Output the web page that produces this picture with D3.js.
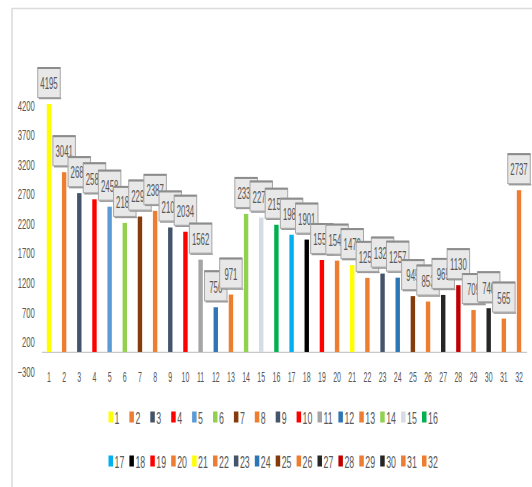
<!DOCTYPE html>
<html>
<head>
<meta charset="utf-8">
<script src="https://cdn.jsdelivr.net/npm/d3@7"></script>
<style>
  html, body { margin: 0; padding: 0; background: #fff; }
  svg { display: block; }
  text { font-family: "Liberation Sans", Arial, sans-serif; fill: #595959; }
</style>
</head>
<body>
<svg id="chart" width="532" height="487"></svg>
<script>
// Categories 1..32 and their values
const categories = d3.range(1, 33).map(String);
const values = [4195, 3041, 2687, 2583, 2458, 2183, 2291, 2387, 2106, 2034, 1562, 756,
                971, 2335, 2274, 2152, 1983, 1901, 1556, 1545, 1470, 1253, 1326, 1257,
                945, 853, 965, 1130, 709, 740, 565, 2737];
const colors = ["#FFFF00", "#ED7D31", "#44546A", "#FF0000", "#5B9BD5", "#92D050", "#843C0C", "#ED7D31",
                "#44546A", "#FF0000", "#A5A5A5", "#2E75B6", "#ED7D31", "#92D050", "#D6DCE4", "#00B050",
                "#00B0F0", "#000000", "#FF0000", "#ED7D31", "#FFFF00", "#ED7D31", "#44546A", "#2E75B6",
                "#843C0C", "#ED7D31", "#262626", "#C00000", "#ED7D31", "#262626", "#ED7D31", "#ED7D31"];
const yTicks = [-300, 200, 700, 1200, 1700, 2200, 2700, 3200, 3700, 4200];

const svg = d3.select("#chart");

// Chart frame
svg.append("path")
  .attr("d", "M12,487 V8.5 H532")
  .attr("fill", "none")
  .attr("stroke", "#dcdcdc")
  .attr("stroke-width", 1.6);

const x = d3.scaleBand().domain(categories).range([41.4, 526.6]);
const y = d3.scaleLinear().domain([-300, 4200]).range([369.7, 103.7]);

// Y axis
const yAxis = svg.append("g")
  .attr("transform", "translate(41.4,0)")
  .call(d3.axisLeft(y).tickValues(yTicks).tickSize(0).tickPadding(0).tickFormat(d3.format("d")));
yAxis.select(".domain").remove();
yAxis.selectAll(".tick text")
  .attr("x", 0).attr("dy", null)
  .attr("dominant-baseline", "central")
  .attr("text-anchor", "end")
  .style("font-size", "14px")
  .style("font-family", "'Liberation Sans', Arial, sans-serif")
  .attr("fill", "#595959")
  .attr("transform", "translate(-6.5,1.5) scale(0.55,1)");

// X axis at zero
const xAxis = svg.append("g")
  .attr("transform", `translate(0,${y(0)})`)
  .call(d3.axisBottom(x).tickSize(0).tickPadding(0));
xAxis.select(".domain").attr("stroke", "#c8c8c8").attr("stroke-width", 1.2);
xAxis.selectAll(".tick text")
  .attr("y", 0).attr("dy", null)
  .style("font-size", "14px")
  .style("font-family", "'Liberation Sans', Arial, sans-serif")
  .attr("fill", "#595959")
  .attr("transform", "translate(0,30) scale(0.5,1)");

// Bars
const bw = 4.4;
svg.append("g").selectAll("rect")
  .data(values)
  .join("rect")
  .attr("x", (d, i) => x(categories[i]) + x.bandwidth() / 2 - bw / 2)
  .attr("y", d => y(d))
  .attr("width", bw)
  .attr("height", d => y(0) - y(d))
  .attr("fill", (d, i) => colors[i]);

// Value callouts, drawn in order so later boxes sit over earlier ones
const boxW = 22.5, boxH = 30, gap = 6.5;
const labels = svg.append("g");
values.forEach((v, i) => {
  const cx = x(categories[i]) + x.bandwidth() / 2;
  const top = y(v) - gap - boxH;
  const g = labels.append("g");
  g.append("rect")
    .attr("x", cx - boxW / 2).attr("y", top)
    .attr("width", boxW).attr("height", boxH)
    .attr("fill", "#e8e8e8")
    .attr("stroke", "#a6a6a6").attr("stroke-width", 1);
  g.append("line")
    .attr("x1", cx - boxW / 2).attr("x2", cx + boxW / 2)
    .attr("y1", top + 0.5).attr("y2", top + 0.5)
    .attr("stroke", "#8c8c8c").attr("stroke-width", 2);
  g.append("line")
    .attr("x1", cx - boxW / 2 + 1).attr("x2", cx + boxW / 2 + 1)
    .attr("y1", top + boxH + 1).attr("y2", top + boxH + 1)
    .attr("stroke", "#9a9a9a").attr("stroke-width", 1.5);
  g.append("text")
    .attr("text-anchor", "middle")
    .attr("dominant-baseline", "central")
    .style("font-size", "17px")
    .attr("transform", `translate(${cx},${top + boxH / 2 + 1}) scale(0.46,1)`)
    .text(v);
});

// Legend: two rows of sixteen entries
const legend = svg.append("g");
categories.forEach((c, i) => {
  const row = Math.floor(i / 16), col = i % 16;
  const lx = 110.5 + col * 20.9;
  const ly = row === 0 ? 417 : 461;
  legend.append("rect")
    .attr("x", lx - 2).attr("y", ly - 5.5)
    .attr("width", 4.5).attr("height", 11)
    .attr("fill", colors[i]);
  legend.append("text")
    .attr("text-anchor", "start")
    .attr("dominant-baseline", "central")
    .style("font-size", "16px")
    .attr("transform", `translate(${lx + 4},${ly + 1}) scale(0.55,1)`)
    .text(c);
});
</script>
</body>
</html>
